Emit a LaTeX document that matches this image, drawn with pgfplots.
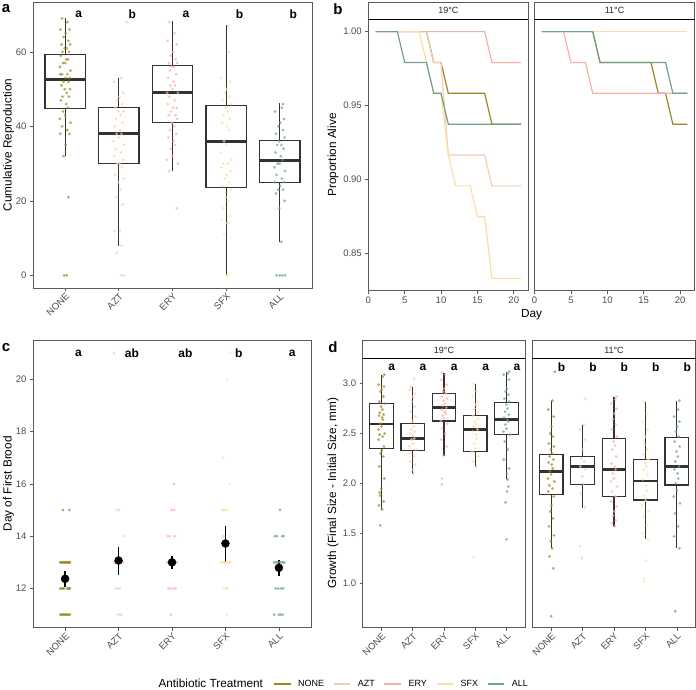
\documentclass[border=0pt]{standalone}
\usepackage{pgfplots}
\pgfplotsset{compat=1.18}
\usepgfplotslibrary{statistics}
\usepackage{fontspec}
\setmainfont{Liberation Sans}
\definecolor{cNONE}{HTML}{9A8822}
\definecolor{cAZT}{HTML}{F5CDB4}
\definecolor{cERY}{HTML}{F8AFA8}
\definecolor{cSFX}{HTML}{FDDDA0}
\definecolor{cALL}{HTML}{74A089}
\definecolor{frm}{HTML}{5A5A5A}
\definecolor{ticklab}{HTML}{4D4D4D}
\definecolor{boxc}{HTML}{333333}
\tikzset{lett/.style={font=\bfseries\fontsize{12}{13}\selectfont}}
\pgfplotsset{
  base/.style={
    scale only axis,
    axis line style={frm, line width=0.7pt},
    tick style={frm, line width=0.7pt},
    tick align=outside,
    major tick length=3pt,
    xtick pos=left, ytick pos=left,
    tick label style={font=\fontsize{9.5}{10}\selectfont, text=ticklab},
    label style={font=\fontsize{11.8}{13}\selectfont},
    /pgf/number format/assume math mode=true,
  },
  cat/.style={
    xmin=0.4, xmax=5.6, xtick={1,2,3,4,5},
    xticklabels={NONE,AZT,ERY,SFX,ALL},
    xticklabel style={rotate=45, anchor=north east, inner sep=1pt},
  },
  pts/.style={only marks, mark=*, mark size=1.55pt, color=#1, mark options={draw opacity=0, fill opacity=0.7}},
}
\newcommand{\bx}[6]{\addplot[boxc, line width=1.15pt, boxplot prepared={draw direction=y, draw position=#1, lower whisker=#2, lower quartile=#3, median=#4, upper quartile=#5, upper whisker=#6, box extend=0.75, whisker extend=0, every median/.style={line width=2.8pt}}] coordinates {};}
\begin{document}
\begin{tikzpicture}
\path[use as bounding box] (0,0) rectangle (696pt,-689pt);
% ================= panel a
\begin{axis}[base, cat, at={(33pt,-2pt)}, anchor=north west, width=279pt, height=286pt,
  ymin=-3.4, ymax=73.4, ytick={0,20,40,60},
  ylabel={Cumulative Reproduction}, ylabel style={at={(rel axis cs:0,0.5)}, yshift=24.5pt, anchor=center}]
\bx{1}{32.1}{44.75}{52.6}{59.4}{69.2}
\bx{2}{7.85}{30.0}{38.0}{45.0}{52.9}
\bx{3}{27.9}{41.0}{49.0}{56.3}{68.2}
\bx{4}{0}{23.6}{35.9}{45.5}{67.1}
\bx{5}{8.9}{25.0}{30.9}{36.1}{46.2}
\addplot[pts=cNONE] table[x expr=\thisrow{j}+1, y=y, row sep=\\] {j y\\
-0.06 69\\0.04 68\\-0.09 66\\0.08 66\\0.01 65\\-0.03 64\\0.06 63\\-0.07 62\\0.09 62\\-0.01 61\\0.03 61\\-0.05 60\\0.07 60\\-0.08 59\\0.02 58\\0.05 58\\-0.04 57\\0.00 57\\-0.10 56\\0.10 55\\-0.06 54\\0.04 54\\-0.09 54\\0.08 53\\0.01 53\\-0.03 52\\0.06 52\\-0.07 51\\0.09 50\\-0.01 50\\0.03 49\\-0.05 48\\0.07 48\\-0.08 47\\0.02 46\\0.05 45\\-0.04 44\\0.00 43\\-0.10 42\\0.10 41\\-0.06 40\\0.04 39\\-0.09 38\\0.08 38\\0.01 35\\-0.03 32\\0.06 21\\-0.02 0\\0.03 0\\};
\addplot[pts=cAZT] table[x expr=\thisrow{j}+2, y=y, row sep=\\] {j y\\
0.15 68\\0.04 53\\-0.09 52\\0.08 49\\0.01 48\\-0.03 47\\0.06 46\\-0.07 45\\0.09 44\\-0.01 44\\0.03 43\\-0.05 42\\0.07 41\\-0.08 40\\0.02 39\\0.05 38\\-0.04 38\\0.00 37\\-0.10 36\\0.10 35\\-0.06 34\\0.04 33\\-0.09 32\\0.08 31\\0.01 30\\-0.03 30\\0.06 29\\-0.07 27\\0.09 26\\-0.01 25\\0.03 23\\-0.05 21\\0.07 19\\-0.08 12\\0.02 12\\0.05 8\\-0.04 6\\0.05 0\\0.10 0\\};
\addplot[pts=cERY] table[x expr=\thisrow{j}+3, y=y, row sep=\\] {j y\\
-0.06 68\\0.04 65\\-0.09 63\\0.08 62\\0.01 60\\-0.03 59\\0.06 58\\-0.07 57\\0.09 57\\-0.01 56\\0.03 56\\-0.05 55\\0.07 54\\-0.08 53\\0.02 52\\0.05 51\\-0.04 51\\0.00 50\\-0.10 49\\0.10 49\\-0.06 48\\0.04 47\\-0.09 46\\0.08 45\\0.01 45\\-0.03 44\\0.06 43\\-0.07 43\\0.09 42\\-0.01 41\\0.03 40\\-0.05 39\\0.07 38\\-0.08 37\\0.02 36\\0.05 35\\-0.04 34\\0.00 32\\-0.10 31\\0.10 30\\-0.06 28\\0.08 18\\};
\addplot[pts=cSFX] table[x expr=\thisrow{j}+4, y=y, row sep=\\] {j y\\
0.04 67\\0.05 60\\-0.09 53\\0.08 52\\0.01 50\\-0.03 49\\0.06 48\\-0.07 47\\0.09 46\\-0.01 45\\0.03 44\\-0.05 43\\0.07 42\\-0.08 41\\0.02 40\\0.05 39\\-0.04 36\\0.00 35\\-0.10 33\\0.10 31\\-0.06 30\\0.04 30\\-0.09 29\\0.08 28\\0.01 27\\-0.03 26\\0.06 25\\-0.07 24\\0.09 23\\-0.01 21\\0.03 20\\-0.05 18\\0.07 16\\-0.08 15\\0.02 14\\0.05 14\\-0.04 11\\0.00 0\\0.04 0\\};
\addplot[pts=cALL] table[x expr=\thisrow{j}+5, y=y, row sep=\\] {j y\\
0.06 46\\0.04 45\\-0.09 44\\0.08 42\\0.01 41\\-0.03 40\\0.06 39\\-0.07 38\\0.09 37\\-0.01 36\\0.03 35\\-0.05 35\\0.07 34\\-0.08 33\\0.02 32\\0.05 31\\-0.04 30\\0.00 30\\-0.10 29\\0.10 28\\-0.06 27\\0.04 26\\-0.09 25\\0.08 25\\0.01 24\\-0.03 23\\0.06 23\\-0.07 22\\0.09 20\\-0.01 18\\0.03 9\\-0.06 0\\0.00 0\\0.05 0\\0.10 0\\};
\node[lett] at (axis cs:1.25,70) {a};
\node[lett] at (axis cs:2.25,70) {b};
\node[lett] at (axis cs:3.25,70) {a};
\node[lett] at (axis cs:4.25,70) {b};
\node[lett] at (axis cs:5.25,70) {b};
\end{axis}
% ================= panel b left
\begin{axis}[base, at={(368.3pt,-19.3pt)}, anchor=north west, width=160pt, height=271.4pt,
  xmin=0, xmax=22, ymin=0.825, ymax=1.00833, xtick={0,5,10,15,20}, ytick={0.85,0.90,0.95,1.00},
  yticklabel style={/pgf/number format/.cd, fixed, fixed zerofill, precision=2},
  ylabel={Proportion Alive}, ylabel style={at={(rel axis cs:0,0.5)}, yshift=35.3pt, anchor=center},
  legend columns=-1,
  legend style={draw=none, fill=none, inner sep=0pt, outer sep=0pt, at={(rel axis cs:-0.594,-1.449)}, anchor=west,
    font=\fontsize{9}{10}\selectfont, /tikz/every even column/.append style={column sep=7pt}},
  legend image code/.code={\draw[#1, line width=1.3pt] (0pt,0pt) -- (16.7pt,0pt); \path (21.5pt,0pt);}]
\addplot[cNONE, line width=1.2pt] coordinates {(1,1) (8,1) (9,0.97917) (10,0.97917) (11,0.95833) (16,0.95833) (17,0.9375) (21,0.9375)};
\addplot[cAZT, line width=1.2pt] coordinates {(1,1) (8,1) (9,0.97917) (10,0.97917) (11,0.91667) (16,0.91667) (17,0.89583) (21,0.89583)};
\addplot[cERY, line width=1.2pt] coordinates {(1,1) (16,1) (17,0.97917) (21,0.97917)};
\addplot[cSFX, line width=1.2pt] coordinates {(1,1) (7,1) (8,0.97917) (9,0.95833) (10,0.95833) (11,0.91667) (12,0.89583) (14,0.89583) (15,0.875) (16,0.875) (17,0.83333) (21,0.83333)};
\addplot[cALL, line width=1.2pt] coordinates {(1,1) (4,1) (5,0.97917) (8,0.97917) (9,0.95833) (10,0.95833) (11,0.9375) (21,0.9375)};
\legend{NONE,AZT,ERY,SFX,ALL}
\end{axis}
% ================= panel b right
\begin{axis}[base, at={(534.5pt,-19.3pt)}, anchor=north west, width=160.2pt, height=271.4pt,
  xmin=0, xmax=22, ymin=0.825, ymax=1.00833, xtick={0,5,10,15,20}, ytick=\empty]
\addplot[cNONE, line width=1.2pt] coordinates {(1,1) (8,1) (9,0.97917) (16,0.97917) (17,0.95833) (18,0.95833) (19,0.9375) (21,0.9375)};
\addplot[cAZT, line width=1.2pt] coordinates {(1,1) (21,1)};
\addplot[cERY, line width=1.2pt] coordinates {(1,1) (4,1) (5,0.97917) (7,0.97917) (8,0.95833) (21,0.95833)};
\addplot[cSFX, line width=1.2pt] coordinates {(1,1) (21,1)};
\addplot[cALL, line width=1.2pt] coordinates {(1,1) (8,1) (9,0.97917) (18,0.97917) (19,0.95833) (21,0.95833)};
\end{axis}
% ================= panel c
\begin{axis}[base, cat, at={(33pt,-340pt)}, anchor=north west, width=278pt, height=287.7pt,
  ymin=10.5, ymax=21.5, ytick={12,14,16,18,20},
  ylabel={Day of First Brood}, ylabel style={at={(rel axis cs:0,0.5)}, yshift=24.5pt, anchor=center}]
\addplot[pts=cNONE] table[x expr=\thisrow{j}+1, y=y, row sep=\\] {j y\\
-0.09 11\\-0.07 11\\-0.05 11\\-0.03 11\\-0.01 11\\0.01 11\\0.03 11\\0.05 11\\0.07 11\\0.09 11\\
-0.09 12\\-0.06 12\\-0.04 12\\-0.02 12\\0.04 12\\0.06 12\\0.08 12\\0.09 12\\
-0.09 13\\-0.08 13\\-0.06 13\\-0.05 13\\-0.03 13\\-0.02 13\\0.00 13\\0.01 13\\0.03 13\\0.04 13\\0.06 13\\0.07 13\\0.08 13\\0.09 13\\
-0.04 15\\0.08 15\\};
\addplot[pts=cAZT] table[x expr=\thisrow{j}+2, y=y, row sep=\\] {j y\\
-0.02 11\\0.02 11\\0.05 11\\-0.05 12\\-0.01 12\\0.03 12\\
-0.09 13\\-0.07 13\\-0.05 13\\-0.03 13\\-0.01 13\\0.01 13\\0.03 13\\0.05 13\\0.07 13\\0.09 13\\-0.04 13\\0.00 13\\0.04 13\\0.08 13\\
0.10 14\\-0.03 15\\0.01 15\\-0.09 21\\};
\addplot[pts=cERY] table[x expr=\thisrow{j}+3, y=y, row sep=\\] {j y\\
-0.02 11\\-0.07 12\\-0.02 12\\0.03 12\\0.07 12\\
-0.09 13\\-0.07 13\\-0.05 13\\-0.03 13\\-0.01 13\\0.01 13\\0.03 13\\0.05 13\\0.07 13\\0.09 13\\-0.04 13\\0.00 13\\0.04 13\\0.08 13\\
-0.08 14\\-0.04 14\\0.05 14\\-0.01 15\\0.04 15\\0.04 16\\};
\addplot[pts=cSFX] table[x expr=\thisrow{j}+4, y=y, row sep=\\] {j y\\
0.02 11\\-0.04 12\\0.01 12\\0.03 12\\
-0.08 13\\-0.05 13\\-0.02 13\\0.01 13\\0.04 13\\0.07 13\\0.09 13\\
-0.06 14\\-0.03 14\\0.08 14\\-0.06 15\\-0.03 15\\0.00 15\\0.04 15\\
0.08 16\\-0.05 17\\0.03 20\\0.09 21\\};
\addplot[pts=cALL] table[x expr=\thisrow{j}+5, y=y, row sep=\\] {j y\\
-0.09 11\\0.00 11\\0.03 11\\0.07 11\\-0.06 12\\-0.01 12\\0.04 12\\0.08 12\\
-0.09 13\\-0.06 13\\-0.03 13\\0.00 13\\0.03 13\\0.06 13\\0.08 13\\0.10 13\\
-0.08 14\\-0.04 14\\0.06 14\\0.09 14\\0.02 15\\};
\addplot[only marks, mark=*, mark size=4pt, black, error bars/.cd, y dir=both, y explicit, error mark=none,
  error bar style={line width=1.2pt, black}] coordinates {
  (1,12.37) += (0,0.29) -= (0,0.31)
  (2,13.07) += (0,0.52) -= (0,0.57)
  (3,13.0) += (0,0.25) -= (0,0.26)
  (4,13.72) += (0,0.68) -= (0,0.72)
  (5,12.79) += (0,0.29) -= (0,0.32)};
\node[lett] at (axis cs:1.25,21) {a};
\node[lett] at (axis cs:2.25,21) {ab};
\node[lett] at (axis cs:3.25,21) {ab};
\node[lett] at (axis cs:4.25,21) {b};
\node[lett] at (axis cs:5.25,21) {a};
\end{axis}
% ================= panel d left (19C)
\begin{axis}[base, cat, at={(362.7pt,-358.7pt)}, anchor=north west, width=162.6pt, height=269pt,
  ymin=0.555, ymax=3.25, ytick={1.0,1.5,2.0,2.5,3.0},
  yticklabel style={/pgf/number format/.cd, fixed, fixed zerofill, precision=1},
  ylabel={Growth (Final Size - Initial Size, mm)}, ylabel style={at={(rel axis cs:0,0.5)}, yshift=29.7pt, anchor=center}]
\bx{1}{1.735}{2.352}{2.596}{2.803}{3.087}
\bx{2}{2.095}{2.329}{2.452}{2.60}{2.97}
\bx{3}{2.275}{2.626}{2.76}{2.903}{3.11}
\bx{4}{2.17}{2.32}{2.54}{2.68}{3.0}
\bx{5}{2.045}{2.49}{2.64}{2.813}{3.12}
\addplot[pts=cNONE] table[x expr=\thisrow{j}+1, y=y, row sep=\\] {j y\\
0.09 3.09\\0.04 3.07\\-0.09 2.99\\0.08 2.97\\0.01 2.94\\-0.03 2.92\\0.06 2.87\\-0.07 2.82\\0.09 2.80\\-0.01 2.77\\0.03 2.74\\-0.05 2.71\\0.07 2.69\\-0.08 2.68\\0.02 2.66\\0.05 2.64\\-0.04 2.60\\0.00 2.57\\-0.10 2.54\\0.10 2.50\\-0.06 2.49\\0.04 2.47\\-0.09 2.44\\0.08 2.37\\0.01 2.33\\-0.03 2.30\\0.06 2.27\\-0.07 2.17\\0.09 2.05\\-0.01 1.95\\-0.06 1.91\\-0.05 1.88\\0.07 1.82\\-0.08 1.78\\0.02 1.74\\-0.04 1.58\\};
\addplot[pts=cAZT] table[x expr=\thisrow{j}+2, y=y, row sep=\\] {j y\\
0.04 3.05\\-0.06 2.97\\-0.09 2.94\\0.08 2.90\\0.01 2.87\\-0.03 2.82\\0.06 2.77\\-0.07 2.72\\0.09 2.67\\-0.01 2.62\\0.03 2.57\\-0.05 2.54\\0.07 2.52\\-0.08 2.50\\0.02 2.48\\0.05 2.45\\-0.04 2.44\\0.00 2.40\\-0.10 2.37\\0.10 2.34\\-0.06 2.30\\0.04 2.27\\-0.09 2.22\\0.08 2.19\\0.01 2.14\\0.03 2.10\\};
\addplot[pts=cERY] table[x expr=\thisrow{j}+3, y=y, row sep=\\] {j y\\
-0.06 3.11\\0.04 3.09\\-0.09 3.04\\0.08 2.99\\0.01 2.95\\-0.03 2.92\\0.06 2.90\\-0.07 2.87\\0.09 2.85\\-0.01 2.83\\0.03 2.80\\-0.05 2.78\\0.07 2.76\\-0.08 2.74\\0.02 2.72\\0.05 2.70\\-0.04 2.68\\0.00 2.65\\-0.10 2.63\\0.10 2.60\\-0.06 2.55\\0.04 2.50\\-0.09 2.44\\0.08 2.37\\-0.03 2.28\\-0.06 2.05\\-0.07 1.99\\};
\addplot[pts=cSFX] table[x expr=\thisrow{j}+4, y=y, row sep=\\] {j y\\
-0.06 3.00\\0.04 2.92\\-0.09 2.87\\0.08 2.82\\0.01 2.79\\-0.03 2.75\\0.06 2.71\\-0.07 2.68\\0.09 2.65\\-0.01 2.62\\0.03 2.59\\-0.05 2.57\\0.07 2.54\\-0.08 2.52\\0.02 2.49\\0.05 2.45\\-0.04 2.40\\0.00 2.35\\-0.10 2.32\\0.10 2.27\\-0.06 2.22\\0.04 2.17\\-0.05 1.26\\};
\addplot[pts=cALL] table[x expr=\thisrow{j}+5, y=y, row sep=\\] {j y\\
0.08 3.12\\0.04 3.10\\-0.09 3.09\\0.08 3.04\\0.01 2.95\\-0.03 2.92\\0.06 2.89\\-0.07 2.85\\0.09 2.82\\-0.01 2.79\\0.03 2.75\\-0.05 2.72\\0.07 2.69\\-0.08 2.66\\0.02 2.64\\0.05 2.62\\-0.04 2.59\\0.00 2.55\\-0.10 2.52\\0.10 2.49\\-0.06 2.42\\0.04 2.34\\-0.09 2.24\\0.08 2.15\\0.01 2.10\\0.03 2.04\\0.06 1.97\\0.02 1.92\\-0.03 1.81\\0.00 1.44\\};
\node[lett] at (axis cs:1.33,3.16) {a};
\node[lett] at (axis cs:2.33,3.16) {a};
\node[lett] at (axis cs:3.33,3.16) {a};
\node[lett] at (axis cs:4.33,3.16) {a};
\node[lett] at (axis cs:5.33,3.16) {a};
\end{axis}
% ================= panel d right (11C)
\begin{axis}[base, cat, at={(532.3pt,-358.7pt)}, anchor=north west, width=163.4pt, height=269pt,
  ymin=0.555, ymax=3.25, ytick=\empty]
\bx{1}{1.35}{1.891}{2.119}{2.29}{2.826}
\bx{2}{1.758}{1.99}{2.169}{2.269}{2.586}
\bx{3}{1.568}{1.868}{2.142}{2.452}{2.87}
\bx{4}{1.444}{1.835}{2.025}{2.242}{2.82}
\bx{5}{1.35}{1.985}{2.169}{2.462}{2.826}
\addplot[pts=cNONE] table[x expr=\thisrow{j}+1, y=y, row sep=\\] {j y\\
0.12 3.12\\0.04 2.83\\-0.09 2.74\\0.08 2.67\\0.01 2.57\\-0.03 2.50\\0.06 2.47\\-0.07 2.40\\0.09 2.37\\-0.01 2.34\\0.03 2.30\\-0.05 2.27\\0.07 2.24\\-0.08 2.21\\0.02 2.19\\0.05 2.15\\-0.04 2.12\\0.00 2.09\\-0.10 2.05\\0.10 2.02\\-0.06 1.98\\0.04 1.95\\-0.09 1.92\\0.08 1.87\\0.01 1.78\\-0.03 1.72\\0.06 1.65\\-0.07 1.57\\0.09 1.48\\-0.01 1.42\\0.03 1.35\\-0.05 1.27\\0.07 1.15\\0.00 0.67\\};
\addplot[pts=cAZT] table[x expr=\thisrow{j}+2, y=y, row sep=\\] {j y\\
0.08 2.85\\0.04 2.59\\-0.09 2.54\\0.08 2.44\\0.01 2.34\\-0.03 2.25\\0.06 2.22\\-0.07 2.17\\0.09 2.14\\-0.01 2.07\\0.03 2.00\\-0.05 1.90\\0.07 1.76\\-0.08 1.37\\-0.03 1.25\\};
\addplot[pts=cERY] table[x expr=\thisrow{j}+3, y=y, row sep=\\] {j y\\
0.08 2.87\\0.04 2.84\\-0.09 2.80\\0.08 2.75\\0.01 2.70\\-0.03 2.64\\0.06 2.59\\-0.07 2.54\\0.09 2.47\\-0.01 2.42\\0.03 2.38\\-0.05 2.34\\0.07 2.27\\-0.08 2.20\\0.02 2.17\\0.05 2.14\\-0.04 2.10\\0.00 2.05\\-0.10 2.02\\0.10 1.97\\-0.06 1.92\\0.04 1.87\\-0.09 1.82\\0.08 1.77\\0.01 1.72\\-0.03 1.68\\0.06 1.63\\-0.07 1.60\\0.02 1.57\\};
\addplot[pts=cSFX] table[x expr=\thisrow{j}+4, y=y, row sep=\\] {j y\\
-0.06 2.82\\0.04 2.70\\-0.09 2.62\\0.08 2.54\\0.01 2.47\\-0.03 2.39\\0.06 2.34\\-0.07 2.29\\0.09 2.24\\-0.01 2.20\\0.03 2.17\\-0.05 2.14\\0.07 2.09\\-0.08 2.04\\0.02 1.98\\0.05 1.93\\-0.04 1.88\\0.00 1.83\\-0.10 1.78\\0.10 1.72\\-0.06 1.67\\0.04 1.58\\-0.09 1.50\\0.08 1.44\\0.01 1.23\\-0.03 1.05\\-0.05 1.02\\};
\addplot[pts=cALL] table[x expr=\thisrow{j}+5, y=y, row sep=\\] {j y\\
0.08 2.83\\0.04 2.74\\-0.09 2.67\\0.08 2.62\\0.01 2.57\\-0.03 2.52\\0.06 2.47\\-0.07 2.42\\0.09 2.37\\-0.01 2.32\\0.03 2.27\\-0.05 2.22\\0.07 2.17\\-0.08 2.14\\0.02 2.10\\0.05 2.05\\-0.04 2.00\\0.00 1.93\\-0.10 1.87\\0.10 1.80\\-0.06 1.70\\0.04 1.57\\-0.09 1.47\\0.08 1.35\\-0.05 0.72\\};
\node[lett] at (axis cs:1.33,3.16) {b};
\node[lett] at (axis cs:2.33,3.16) {b};
\node[lett] at (axis cs:3.33,3.16) {b};
\node[lett] at (axis cs:4.33,3.16) {b};
\node[lett] at (axis cs:5.33,3.16) {b};
\end{axis}
% ================= strips
\begin{scope}[font=\fontsize{9}{10}\selectfont]
\draw[frm, line width=0.7pt, fill=white] (368.3pt,-2pt) rectangle (528.3pt,-19.3pt);
\draw[frm, line width=0.7pt, fill=white] (534.5pt,-2pt) rectangle (694.7pt,-19.3pt);
\draw[black, line width=1pt] (368.3pt,-19.3pt) -- (528.3pt,-19.3pt);
\draw[black, line width=1pt] (534.5pt,-19.3pt) -- (694.7pt,-19.3pt);
\node[text=black!85] at (448.3pt,-10.8pt) {19°C};
\node[text=black!85] at (614.6pt,-10.8pt) {11°C};
\draw[frm, line width=0.7pt, fill=white] (362.7pt,-340.7pt) rectangle (525.3pt,-358.7pt);
\draw[frm, line width=0.7pt, fill=white] (532.3pt,-340.7pt) rectangle (695.7pt,-358.7pt);
\draw[black, line width=1pt] (362.7pt,-358.7pt) -- (525.3pt,-358.7pt);
\draw[black, line width=1pt] (532.3pt,-358.7pt) -- (695.7pt,-358.7pt);
\node[text=black!85] at (444pt,-349.9pt) {19°C};
\node[text=black!85] at (614pt,-349.9pt) {11°C};
\end{scope}
% ================= labels
\node[font=\fontsize{11.8}{13}\selectfont] at (531.5pt,-315pt) {Day};
\node[anchor=west, inner sep=0pt, font=\fontsize{11.8}{13}\selectfont] at (158.3pt,-683.5pt) {Antibiotic Treatment};
\begin{scope}[font=\bfseries\fontsize{15}{16}\selectfont, inner sep=0pt]
\node at (6pt,-9pt) {a};
\node at (338pt,-9pt) {b};
\node at (6pt,-348pt) {c};
\node at (333pt,-347pt) {d};
\end{scope}
\end{tikzpicture}
\end{document}
